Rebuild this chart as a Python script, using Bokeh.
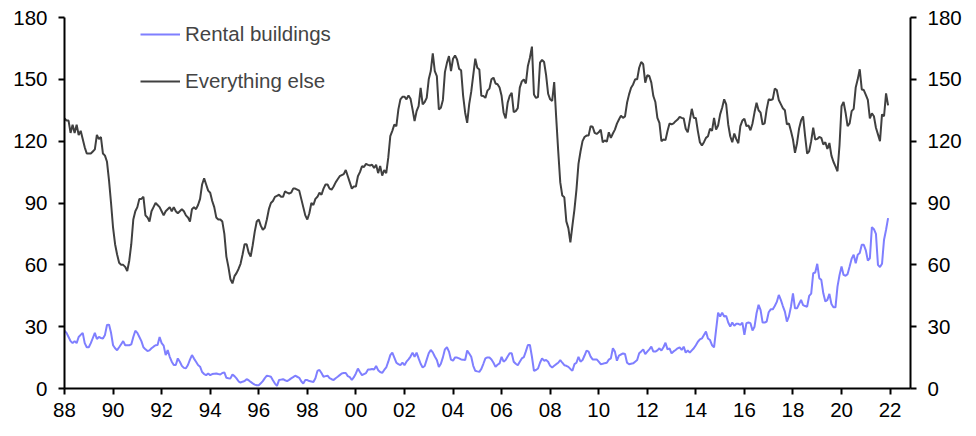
import numpy as np

from bokeh.embed import file_html
from bokeh.models import FixedTicker, Legend, LegendItem, LinearAxis, Range1d
from bokeh.plotting import figure
from bokeh.resources import INLINE

# monthly index values, Jan 1988 - Dec 2021
start_year = 1988

rental_buildings = [
    28, 27, 25, 23, 22, 23, 22, 25, 26, 27, 22, 20,                      # 1988
    20, 22, 24.5, 27, 24, 25, 24.5, 24.3, 26, 30.8, 31, 27,              # 1989
    21, 19.5, 18.6, 20, 21.5, 23, 21, 21, 21, 21.4, 25, 28,              # 1990
    27, 25, 23, 20, 19, 18.2, 18.5, 19.5, 20.3, 21, 21.1, 25,            # 1991
    22, 20.8, 16.2, 18.6, 15.4, 13, 11.4, 11.4, 14.6, 13, 11, 10,        # 1992
    9.8, 11.4, 14, 16.2, 14.5, 13, 11.4, 10.6, 8, 7, 6.5, 7.3,           # 1993
    6.5, 7, 7.2, 7.3, 7, 6.8, 7.5, 7.8, 5.2, 5, 4.9, 6.8,                # 1994
    6, 4.9, 3.5, 2.9, 3.3, 3.6, 4.5, 4, 3.2, 2.5, 1.9, 1.6,              # 1995
    1.6, 2.5, 3.6, 5, 6.2, 6, 5.7, 4, 2.4, 1.3, 4.1, 4.3,                # 1996
    4.5, 4, 3.6, 4.2, 4.9, 5.5, 6.2, 5.7, 5.2, 3.5, 2.4, 4.1,            # 1997
    4.1, 3.6, 3.4, 3.2, 5, 8.5, 9, 7.5, 5.7, 6, 6.2, 5,                  # 1998
    4.5, 4.1, 5, 5.7, 6.5, 7.3, 7.5, 7.5, 6, 5.5, 4.1, 5.5,              # 1999
    7.3, 9.7, 8, 6.5, 7, 7.5, 9.2, 9.2, 9.5, 9.2, 10.9, 8.9,             # 2000
    8, 7.6, 9, 10.2, 13, 16.2, 17.4, 15, 12.5, 11.8, 11.3, 12.5,         # 2001
    11.3, 13, 14.1, 15.5, 17.4, 15.4, 17.4, 14.6, 12, 10.2, 10.9, 14,    # 2002
    17.1, 18.7, 17.5, 15.5, 13.8, 10.5, 12, 15.1, 19, 20, 17.9, 14,      # 2003
    13.5, 15.1, 15, 14.6, 14.1, 14, 13.8, 18.4, 17, 15.4, 11, 8.6,       # 2004
    8.3, 8.1, 9.5, 12, 14.6, 15.1, 15, 14.1, 12.5, 10.5, 11.5, 12.2,     # 2005
    15.4, 13, 13.8, 15.5, 17.1, 17.1, 13, 12, 11.3, 13, 14.6, 15.2,      # 2006
    18, 21.1, 21.1, 15.4, 8.6, 9, 9.7, 12.5, 14.6, 13.5, 13.8, 13,       # 2007
    11, 10.2, 11, 11.8, 12.5, 13.8, 12.5, 11.3, 11, 10.5, 9.5, 8.6,      # 2008
    11.8, 12.5, 15.4, 13, 13.8, 16, 18.4, 17.9, 15.5, 14.1, 14.1, 14.1,  # 2009
    13, 11.8, 12, 12.3, 12.5, 14, 14.6, 19.5, 17.9, 13.5, 16, 16.5,      # 2010
    17, 16.7, 12.5, 11.8, 12, 12.2, 13, 13.8, 17.1, 18, 19, 16.7,        # 2011
    17.9, 19, 20.3, 17.9, 17.9, 18.5, 19.5, 18.4, 20, 22.2, 19, 19.5,    # 2012
    17.1, 18, 18.7, 19.5, 20, 18.7, 20.3, 17.4, 18.4, 17.4, 18.5, 19.5,  # 2013
    21, 22.7, 23.8, 24.3, 26, 27.6, 24.3, 23.5, 21, 20, 28.4, 36.8,      # 2014
    34.9, 36.8, 34.9, 35.2, 32, 30, 32, 30.4, 31.4, 31.4, 30.9, 32,      # 2015
    26, 31.7, 32, 31.7, 28.1, 30, 36.5, 40.6, 38, 32, 32, 32.5,          # 2016
    37, 38.4, 38.4, 40, 42, 45.4, 43, 40, 37.3, 32.5, 35, 39.7,          # 2017
    46.2, 38.9, 38.9, 41, 43, 40.5, 40, 39.7, 44.9, 46, 55.9, 56.3,      # 2018
    60.5, 53.5, 52.7, 46.2, 42.2, 43, 45.9, 41, 39.4, 39.4, 49.4, 55,    # 2019
    59.2, 55.1, 54.7, 55.5, 59.2, 63, 64.9, 60.8, 64.9, 65.7, 69.7, 69.7,  # 2020
    67, 62.1, 63.2, 78.3, 77.3, 75, 60, 58.9, 60.5, 72.2, 77, 82.7,      # 2021
]

everything_else = [
    131, 130, 130, 124, 128, 124, 128, 123, 125, 121, 117, 114,          # 1988
    114, 114, 115, 116, 123, 121, 122, 114, 113, 110, 101, 90,           # 1989
    78, 70, 65, 61, 60, 60, 59, 57, 62, 70, 82, 86,                      # 1990
    88, 92, 92, 93, 84, 83, 81, 86, 88, 90, 89, 88,                      # 1991
    86, 84, 86, 87, 88, 86, 88, 86, 85, 86, 87, 86,                      # 1992
    84, 83, 81, 87, 88, 87, 89, 92, 99, 102, 99, 96,                     # 1993
    95, 91, 88, 83, 82, 82, 81, 75, 64, 59, 53, 51,                      # 1994
    54.5, 56, 58, 60.5, 65, 70, 70, 66, 64, 69.5, 76, 81,                # 1995
    82, 79, 77, 78, 82, 87, 90, 91, 93, 93.5, 94, 93,                    # 1996
    93, 95.7, 95, 94.6, 95, 97, 97, 96.5, 96, 92, 88, 84,                # 1997
    82, 85, 90, 89, 92, 93, 95, 94, 97, 99, 99, 97,                      # 1998
    96.5, 98, 100, 101.5, 103, 103.5, 104, 106, 103, 100, 97, 98,        # 1999
    98, 103, 105, 107.8, 107.5, 109, 108.5, 108.2, 108.6, 107, 108.6, 104.5,  # 2000
    108, 103.3, 106, 104.5, 112, 122.4, 125, 128, 127.3, 135.4, 140.3, 141.5,  # 2001
    141.6, 140.3, 142.2, 140.6, 135.4, 129.7, 134.6, 137, 145.9, 137.8, 139, 141,  # 2002
    150, 154, 162.6, 154, 151.6, 135.4, 136.2, 140, 153.5, 158, 161.3, 154,  # 2003
    160, 161.6, 159.6, 155.1, 154.4, 142, 133.8, 128.9, 138, 144, 152, 160,  # 2004
    155.6, 154.8, 142, 141.9, 141, 144.5, 145.5, 150, 150.8, 148, 147.6, 146,  # 2005
    142, 133.8, 131, 138.6, 141.9, 143.5, 134.1, 134.6, 136, 146, 149, 150,  # 2006
    148, 156.5, 160.5, 165.9, 142.7, 141, 141.4, 158.1, 159.4, 158.4, 152, 143,  # 2007
    140.3, 139.5, 148.7, 131.3, 115, 100, 93.6, 92.8, 81.1, 77.8, 70.9, 79,  # 2008
    86.8, 96.5, 109, 115, 120, 122, 122.7, 122.7, 127.3, 127, 124, 123.5,  # 2009
    124.3, 125.6, 119.4, 120.4, 119.7, 124.3, 121.6, 123.7, 125.6, 128.5, 130.5, 132.4,  # 2010
    131.3, 132, 138.6, 142.7, 145.9, 147.5, 150, 150, 155.6, 158.4, 157.3, 148.4,  # 2011
    152, 151.6, 148.4, 141.9, 139, 131.3, 128.9, 120, 120.8, 120.5, 124.9, 128.6,  # 2012
    128.1, 128.6, 129.7, 130.5, 131.8, 131.3, 131, 126, 124.3, 130, 135.7, 131.3,  # 2013
    131.3, 124.9, 119.5, 117.9, 119.5, 121.6, 122.4, 126, 125, 131.3, 125.6, 127.6,  # 2014
    133, 136.2, 140.3, 137.8, 128.1, 122.4, 119.5, 123.7, 121, 119, 127.3, 130,  # 2015
    130.9, 127.3, 127.6, 125.3, 128.6, 134, 138.6, 135, 133.8, 128.1, 128.6, 135.4,  # 2016
    140.3, 140, 140.3, 145.5, 144.8, 140, 138, 136, 135, 128.1, 128.6, 124.9,  # 2017
    120.8, 114.3, 119, 126, 130, 132, 122.4, 114, 115.1, 120, 126.5, 120.8,  # 2018
    121.1, 122, 121.6, 118.4, 119.5, 116.2, 119.1, 113, 110, 107.8, 105.4, 118,  # 2019
    137, 139, 133.8, 127.3, 128.6, 134.6, 135.7, 146, 150, 154.9, 145.1, 144.8,  # 2020
    142.5, 140, 131, 133.5, 132.1, 126.5, 123.3, 120, 133, 132.1, 143.2, 137.4,  # 2021
]

x_ticks = list(range(1988, 2023, 2))
x_tick_labels = {yr: f"{yr % 100:02d}" for yr in x_ticks}
y_ticks = [0, 30, 60, 90, 120, 150, 180]

dates = start_year + np.arange(len(everything_else)) / 12

FONT = "Liberation Sans"
FONT_SIZE = "20.5px"

p = figure(width=976, height=436, output_backend="svg", toolbar_location=None,
           x_range=Range1d(1988, 2022.84), y_range=Range1d(0, 180),
           min_border_left=64, min_border_right=66, min_border_top=17,
           min_border_bottom=48)
p.outline_line_color = None
p.grid.grid_line_color = None

r_rent = p.line(dates, rental_buildings, line_color="#7f7fff", line_width=2)
r_else = p.line(dates, everything_else, line_color="#404040", line_width=2)

right = LinearAxis(y_range_name="default")
p.add_layout(right, "right")

for ax in p.yaxis:
    ax.ticker = FixedTicker(ticks=y_ticks)
    ax.major_label_standoff = 11

p.xaxis.ticker = FixedTicker(ticks=x_ticks)
p.xaxis.major_label_overrides = x_tick_labels
p.xaxis.major_label_standoff = 8

for ax in p.axis:
    ax.axis_line_width = 2
    ax.axis_line_color = "black"
    ax.major_tick_line_width = 2
    ax.major_tick_in = 0
    ax.major_tick_out = 6
    ax.minor_tick_line_color = None
    ax.major_label_text_font = FONT
    ax.major_label_text_font_size = FONT_SIZE
    ax.major_label_text_color = "black"

legend = Legend(items=[LegendItem(label="Rental buildings", renderers=[r_rent]),
                       LegendItem(label="Everything else", renderers=[r_else])],
                location=(76, 295), padding=0, spacing=23,
                glyph_width=40, glyph_height=24, label_height=24,
                label_standoff=5, label_text_font=FONT,
                label_text_font_size=FONT_SIZE,
                border_line_color=None, background_fill_alpha=0)
p.add_layout(legend)

open("out.html", "w").write(file_html(p, INLINE))
